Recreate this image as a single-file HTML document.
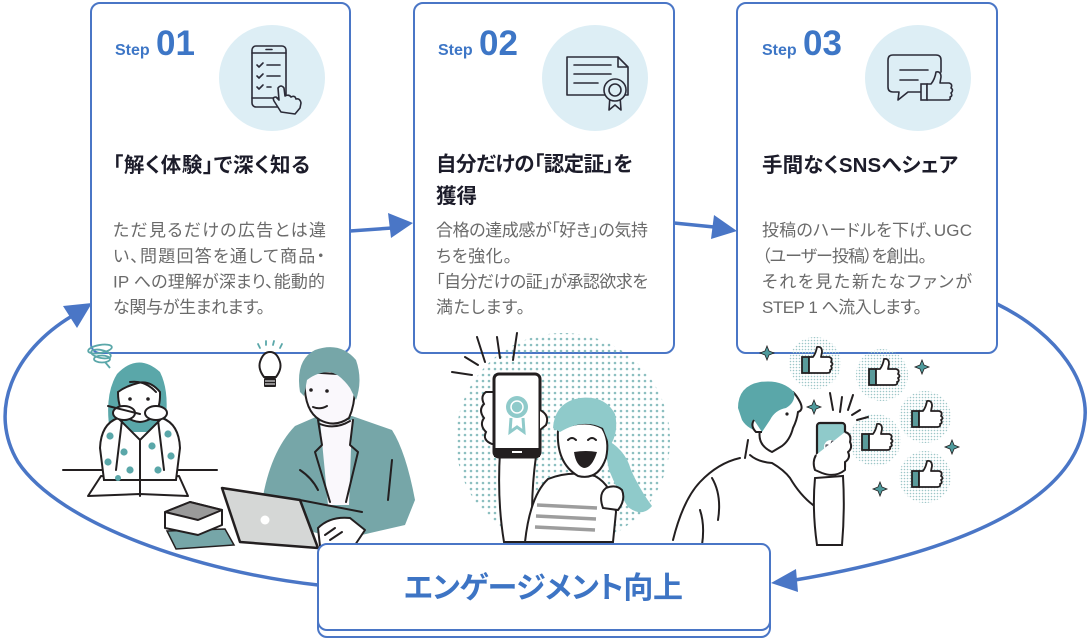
<!DOCTYPE html>
<html><head><meta charset="utf-8">
<style>
*{margin:0;padding:0;box-sizing:border-box}
html,body{width:1087px;height:639px;overflow:hidden;background:#fff}
svg{display:block}
text{font-family:"Liberation Sans","Noto Sans CJK JP",sans-serif;font-feature-settings:"palt"}
.sl{font-size:16px;font-weight:700;fill:#3d76c6}
.sn{font-size:35px;font-weight:700;fill:#3d76c6}
.tt{font-size:20.5px;font-weight:700;fill:#1c1c2a}
.bd{font-size:17px;font-weight:400;fill:#6a6a6a}
.bt{font-size:30px;font-weight:700;fill:#3d74c4}
.ln{fill:none;stroke:#231f20;stroke-width:2;stroke-linecap:round;stroke-linejoin:round}
.ic{fill:none;stroke:#2b2b38;stroke-width:1.6;stroke-linecap:round;stroke-linejoin:round}
</style></head>
<body>
<svg width="1087" height="639" viewBox="0 0 1087 639">
<defs>
<pattern id="d1" width="6" height="6" patternUnits="userSpaceOnUse"><circle cx="3" cy="3" r="1.3" fill="#8cbfc0"/></pattern>
<pattern id="d2" width="3" height="3" patternUnits="userSpaceOnUse"><circle cx="1.5" cy="1.5" r="0.8" fill="#9cc6c7"/></pattern>
</defs>

<!-- loops -->
<path d="M318,585 C200,572 60,525 18,462 C-12,412 12,352 72,316" fill="none" stroke="#4a76c6" stroke-width="3.5"/>
<polygon points="63,306 92,303 77,328" fill="#4a76c6"/>
<path d="M997,304 C1060,335 1092,385 1084,425 C1075,485 1000,545 795,580" fill="none" stroke="#4a76c6" stroke-width="3.5"/>
<polygon points="771,583 796,569 798,592" fill="#4a76c6"/>

<!-- cards -->
<rect x="91" y="3" width="259" height="350" rx="9" fill="#fff" stroke="#4a76c6" stroke-width="2"/>
<rect x="414" y="3" width="260" height="350" rx="9" fill="#fff" stroke="#4a76c6" stroke-width="2"/>
<rect x="737" y="3" width="260" height="350" rx="9" fill="#fff" stroke="#4a76c6" stroke-width="2"/>

<!-- between arrows -->
<path d="M350,231 L392,228" stroke="#4a76c6" stroke-width="3.5"/>
<polygon points="413,223 388,213 391,238" fill="#4a76c6"/>
<path d="M674,223 L714,227" stroke="#4a76c6" stroke-width="3.5"/>
<polygon points="737,231 714,215 711,239" fill="#4a76c6"/>

<!-- icon circles -->
<circle cx="272" cy="78" r="53" fill="#ddeef5"/>
<circle cx="595" cy="78" r="53" fill="#ddeef5"/>
<circle cx="918" cy="78" r="53" fill="#ddeef5"/>

<!-- icon 1 -->
<rect x="252" y="46" width="34" height="61" rx="4" class="ic"/>
<path class="ic" d="M252,53 L286,53 M252,98 L286,98 M266,49.5 L272,49.5"/>
<path class="ic" d="M257,65 l2,2 l4,-4 M267,65 L280,65 M257,76 l2,2 l4,-4 M267,76 L280,76 M257,87 l2,2 l4,-4 M267,87 L271,87"/>
<path d="M281,112 L274,101 Q272,97 276,97 L279,100 L278,88 Q281,84 284,88 L285,96 Q289,94 291,97 Q295,95 296,99 Q300,98 301,103 L300,108 L295,114 Z" fill="#ddeef5" stroke="#2b2b38" stroke-width="1.6" stroke-linejoin="round"/>

<!-- icon 2 -->
<path class="ic" d="M567,57 L618,57 L628,67 L628,95 L567,95 Z M618,57 L618,67 L628,67"/>
<path class="ic" d="M574,65 L611,65 M574,74 L611,74 M574,83 L598,83"/>
<path d="M610,96 L609,110 L615,105 L621,110 L620,96" fill="#ddeef5" stroke="#2b2b38" stroke-width="1.6" stroke-linejoin="round"/>
<circle cx="615" cy="90" r="11" fill="#ddeef5" stroke="#2b2b38" stroke-width="1.6"/>
<circle cx="615" cy="90" r="6" fill="none" stroke="#2b2b38" stroke-width="1.6"/>

<!-- icon 3 -->
<path class="ic" d="M893,55 L936,55 Q941,55 941,60 L941,72 M926,92 L908,92 L898,100 L899,92 L893,92 Q888,92 888,87 L888,60 Q888,55 893,55"/>
<path class="ic" d="M900,70 L928,70 M900,80 L918,80"/>
<rect x="921" y="84" width="6" height="16" fill="#ddeef5" stroke="#2b2b38" stroke-width="1.6"/>
<path d="M927,84 L931,84 Q935,79 936,72 Q941,71 941,77 L940,83 L949,83 Q953,84 951,88 Q954,90 951,93 Q953,96 950,97 Q951,100 948,100 L927,100 Z" fill="#ddeef5" stroke="#2b2b38" stroke-width="1.6" stroke-linejoin="round"/>

<!-- text card 1 -->
<text x="115" y="55" class="sl">Step</text><text x="156" y="55" class="sn">01</text>
<text x="113" y="172" class="tt" textLength="197">「解く体験」で深く知る</text>
<text x="113" y="236" class="bd" textLength="213">ただ見るだけの広告とは違</text>
<text x="113" y="262" class="bd" textLength="212">い、問題回答を通して商品・</text>
<text x="113" y="287.5" class="bd" textLength="212">IP への理解が深まり、能動的</text>
<text x="113" y="313" class="bd" textLength="152">な関与が生まれます。</text>

<!-- text card 2 -->
<text x="438" y="55" class="sl">Step</text><text x="479" y="55" class="sn">02</text>
<text x="436" y="171" class="tt" textLength="197">自分だけの「認定証」を</text>
<text x="436" y="203" class="tt">獲得</text>
<text x="436" y="236" class="bd" textLength="212">合格の達成感が「好き」の気持</text>
<text x="436" y="262" class="bd" textLength="76">ちを強化。</text>
<text x="436" y="287.5" class="bd" textLength="212">「自分だけの証」が承認欲求を</text>
<text x="436" y="313" class="bd" textLength="89">満たします。</text>

<!-- text card 3 -->
<text x="762" y="55" class="sl">Step</text><text x="803" y="55" class="sn">03</text>
<text x="762" y="172" class="tt" textLength="196">手間なくSNSへシェア</text>
<text x="762" y="236" class="bd" textLength="210">投稿のハードルを下げ、UGC</text>
<text x="762" y="262" class="bd" textLength="165">（ユーザー投稿）を創出。</text>
<text x="762" y="287.5" class="bd" textLength="210">それを見た新たなファンが</text>
<text x="762" y="313" class="bd" textLength="160">STEP 1 へ流入します。</text>

<!-- ===== LEFT ILLUSTRATION ===== -->
<!-- scribble -->
<g fill="none" stroke="#5aa7a9" stroke-width="1.8">
<ellipse cx="100" cy="349" rx="12" ry="4" transform="rotate(-10 100 349)"/>
<ellipse cx="101" cy="354" rx="10" ry="4" transform="rotate(12 101 354)"/>
<ellipse cx="102" cy="359" rx="8" ry="3.5"/>
<path d="M105,362 L110,368"/>
</g>
<!-- desk -->
<path class="ln" d="M63,470 L217,470" stroke-width="2.5"/>
<path d="M88,496 L101,476 L140,480 L179,476 L188,496 L140,494 Z" fill="#fff" stroke="#231f20" stroke-width="2" stroke-linejoin="round"/>
<!-- woman hair -->
<path d="M110,432 Q104,395 117,374 Q138,352 160,372 Q170,392 165,425 L150,432 Z" fill="#5aa7a9"/>
<!-- face -->
<path d="M118,392 Q118,420 140,422 Q161,420 160,392 Q150,380 138,383 Q126,386 118,392 Z" fill="#fff" stroke="#231f20" stroke-width="2"/>
<path class="ln" d="M130,382 Q145,380 156,392"/>
<circle cx="130" cy="399" r="1.8" fill="#231f20"/><circle cx="148" cy="399" r="1.8" fill="#231f20"/>
<!-- body -->
<path d="M100,448 Q101,424 118,418 L140,440 L162,418 Q179,424 180,448 L176,480 L104,480 Z" fill="#fff" stroke="#231f20" stroke-width="2"/>
<g fill="#5aa7a9">
<circle cx="110" cy="436" r="3.6"/><circle cx="124" cy="452" r="3.6"/><circle cx="108" cy="462" r="3.6"/><circle cx="130" cy="470" r="3.6"/>
<circle cx="152" cy="446" r="3.6"/><circle cx="168" cy="434" r="3.6"/><circle cx="171" cy="456" r="3.6"/><circle cx="158" cy="470" r="3.6"/><circle cx="118" cy="478" r="3"/>
</g>
<path class="ln" d="M122,420 L116,470 M158,420 L164,470 M140,440 L140,496"/>
<!-- hands -->
<ellipse cx="124" cy="413" rx="11" ry="7" fill="#fff" stroke="#231f20" stroke-width="2"/>
<ellipse cx="156" cy="413" rx="11" ry="7" fill="#fff" stroke="#231f20" stroke-width="2"/>
<path class="ln" d="M108,406 L140,414"/>

<!-- lightbulb -->
<path d="M264,377 Q258,369 260,362 Q263,352 270,352 Q277,352 280,362 Q282,369 276,377 Z" fill="#fff" stroke="#231f20" stroke-width="2"/>
<rect x="264" y="378" width="12" height="9" rx="1" fill="#231f20"/>
<path d="M265,381 L275,381 M265,384 L275,384" stroke="#fff" stroke-width="1"/>
<path d="M258,344 L260,348 M266,341 L266,345 M274,341 L273,345 M282,344 L280,348" stroke="#5aa7a9" stroke-width="1.8" stroke-linecap="round"/>

<!-- left man -->
<path d="M262,502 Q270,452 295,426 L318,416 L352,416 L392,430 Q406,452 415,500 L405,525 L340,540 L280,522 Z" fill="#76a6a8"/>
<path d="M320,420 L352,420 L349,505 L328,505 Z" fill="#faf8fc"/>
<path class="ln" d="M318,420 L322,445 L315,452 L330,502 M353,420 L350,445 L358,452 L346,502 M300,470 Q312,478 318,490 M392,460 L388,500"/>
<path d="M305,372 Q302,410 320,420 Q335,428 349,418 Q357,400 354,375 Z" fill="#faf8fc" stroke="#231f20" stroke-width="2"/>
<path d="M300,392 Q295,360 315,350 Q340,341 356,360 Q363,380 356,400 L350,388 Q340,374 330,372 Q317,372 307,380 L304,396 Z" fill="#76a6a8"/>
<circle cx="311" cy="390" r="1.8" fill="#231f20"/><circle cx="327" cy="391" r="1.8" fill="#231f20"/>
<path class="ln" d="M313,407 Q320,410 327,406 M320,424 Q335,430 350,421"/>
<!-- books -->
<path d="M167,531 L225,529 L234,545 L176,549 Z" fill="#76a6a8" stroke="#231f20" stroke-width="1.5"/>
<path d="M165,512 L190,502 L222,510 L222,525 L198,535 L165,528 Z" fill="#fff" stroke="#231f20" stroke-width="2" stroke-linejoin="round"/>
<path d="M165,512 L190,502 L222,510 L198,520 Z" fill="#9a9a9a" stroke="#231f20" stroke-width="2" stroke-linejoin="round"/>
<!-- laptop -->
<path d="M222,488 L300,500 L318,548 L240,542 Z" fill="#d5d7d6" stroke="#231f20" stroke-width="2.5" stroke-linejoin="round"/>
<circle cx="265" cy="520" r="4.5" fill="#fff"/>
<path class="ln" d="M300,500 L362,512"/>
<path d="M318,528 Q330,516 350,518 L365,530 L355,545 L320,546 Z" fill="#fff" stroke="#231f20" stroke-width="2" stroke-linejoin="round"/>
<path class="ln" d="M325,535 L335,528 M330,540 L342,532"/>

<!-- ===== MIDDLE ILLUSTRATION ===== -->
<circle cx="563" cy="440" r="107" fill="url(#d1)"/>
<path class="ln" d="M477,337 L485,362 M497,337 L500,358 M517,333 L513,360 M465,357 L478,365 M452,372 L472,375"/>
<!-- arm -->
<path d="M500,452 Q497,500 504,542 L533,542 Q530,500 536,456 Z" fill="#fff" stroke="#231f20" stroke-width="2"/>
<!-- body -->
<path d="M525,542 Q530,496 548,479 Q570,470 595,476 Q613,486 616,512 L613,542 Z" fill="#fff" stroke="#231f20" stroke-width="2"/>
<path d="M537,505 L597,508 M536,516 L596,519 M535,527 L595,530" stroke="#9d9d9d" stroke-width="3.5"/>
<!-- ponytail -->
<path d="M603,438 Q625,448 631,470 Q640,490 652,506 Q642,518 628,507 Q617,490 609,470 Z" fill="#8fcaca"/>
<!-- face -->
<path d="M558,430 Q556,463 578,476 Q598,481 606,458 Q610,440 602,428 Q585,418 558,430 Z" fill="#fff" stroke="#231f20" stroke-width="2"/>
<path d="M553,428 Q555,402 580,398 Q605,395 615,414 Q619,432 610,446 L603,428 Q583,418 560,432 Z" fill="#8fcaca"/>
<path class="ln" d="M568,440 Q572,436 576,440 M588,440 Q592,436 596,440"/>
<path d="M574,452 Q586,450 597,452 Q592,468 584,468 Q576,466 574,452 Z" fill="#231f20"/>
<!-- fist -->
<path d="M603,508 Q598,494 606,488 Q616,484 622,490 Q626,500 618,510 Z" fill="#fff" stroke="#231f20" stroke-width="2"/>
<!-- phone -->
<path d="M486,392 Q480,396 484,404 Q478,410 484,418 Q479,425 486,432 Q482,440 492,444 L498,444 L498,392 Z" fill="#fff" stroke="#231f20" stroke-width="2"/>
<rect x="494" y="374" width="46" height="83" rx="5" fill="#fff" stroke="#231f20" stroke-width="3"/>
<rect x="494" y="448" width="46" height="9" fill="#231f20"/>
<rect x="512" y="451" width="10" height="2" fill="#fff"/>
<path d="M511,418 L510,432 L517,427 L524,432 L523,418" fill="none" stroke="#8fcaca" stroke-width="3"/>
<circle cx="517" cy="407" r="11" fill="#8fcaca"/>
<circle cx="517" cy="407" r="6" fill="none" stroke="#fff" stroke-width="1.5"/>
<path d="M540,410 Q550,415 546,425 L540,430" fill="#fff" stroke="#231f20" stroke-width="2"/>

<!-- ===== RIGHT ILLUSTRATION ===== -->
<circle cx="815" cy="363" r="26" fill="url(#d2)"/>
<circle cx="882" cy="375" r="26" fill="url(#d2)"/>
<circle cx="925" cy="417" r="26" fill="url(#d2)"/>
<circle cx="875" cy="440" r="26" fill="url(#d2)"/>
<circle cx="925" cy="477" r="26" fill="url(#d2)"/>
<g transform="translate(815,363)"><rect x="-13" y="-6" width="7" height="16" fill="#5a9a9a" stroke="#231f20" stroke-width="1.8"/><path d="M-6,-6 L-2,-6 Q1,-10 2,-16 Q7,-17 7,-11 L6,-6 L14,-6 Q18,-5 16,-1 Q19,1 16,3 Q18,6 15,7 Q16,10 12,10 L-6,10 Z" fill="#fff" stroke="#231f20" stroke-width="1.8" stroke-linejoin="round"/></g>
<g transform="translate(882,375)"><rect x="-13" y="-6" width="7" height="16" fill="#5a9a9a" stroke="#231f20" stroke-width="1.8"/><path d="M-6,-6 L-2,-6 Q1,-10 2,-16 Q7,-17 7,-11 L6,-6 L14,-6 Q18,-5 16,-1 Q19,1 16,3 Q18,6 15,7 Q16,10 12,10 L-6,10 Z" fill="#fff" stroke="#231f20" stroke-width="1.8" stroke-linejoin="round"/></g>
<g transform="translate(925,417)"><rect x="-13" y="-6" width="7" height="16" fill="#5a9a9a" stroke="#231f20" stroke-width="1.8"/><path d="M-6,-6 L-2,-6 Q1,-10 2,-16 Q7,-17 7,-11 L6,-6 L14,-6 Q18,-5 16,-1 Q19,1 16,3 Q18,6 15,7 Q16,10 12,10 L-6,10 Z" fill="#fff" stroke="#231f20" stroke-width="1.8" stroke-linejoin="round"/></g>
<g transform="translate(875,440)"><rect x="-13" y="-6" width="7" height="16" fill="#5a9a9a" stroke="#231f20" stroke-width="1.8"/><path d="M-6,-6 L-2,-6 Q1,-10 2,-16 Q7,-17 7,-11 L6,-6 L14,-6 Q18,-5 16,-1 Q19,1 16,3 Q18,6 15,7 Q16,10 12,10 L-6,10 Z" fill="#fff" stroke="#231f20" stroke-width="1.8" stroke-linejoin="round"/></g>
<g transform="translate(925,477)"><rect x="-13" y="-6" width="7" height="16" fill="#5a9a9a" stroke="#231f20" stroke-width="1.8"/><path d="M-6,-6 L-2,-6 Q1,-10 2,-16 Q7,-17 7,-11 L6,-6 L14,-6 Q18,-5 16,-1 Q19,1 16,3 Q18,6 15,7 Q16,10 12,10 L-6,10 Z" fill="#fff" stroke="#231f20" stroke-width="1.8" stroke-linejoin="round"/></g>
<!-- sparkles -->
<g fill="#4f9a9c" stroke="#231f20" stroke-width="0.8">
<path d="M767,346 L769,351 L774,353 L769,355 L767,360 L765,355 L760,353 L765,351 Z"/>
<path d="M922,360 L924,365 L929,367 L924,369 L922,374 L920,369 L915,367 L920,365 Z"/>
<path d="M814,400 L816,405 L821,407 L816,409 L814,414 L812,409 L807,407 L812,405 Z"/>
<path d="M952,440 L954,445 L959,447 L954,449 L952,454 L950,449 L945,447 L950,445 Z"/>
<path d="M880,482 L882,487 L887,489 L882,491 L880,496 L878,491 L873,489 L878,487 Z"/>
</g>
<path class="ln" d="M830,393 L833,410 M842,397 L840,412 M853,395 L848,410 M860,410 L852,415 M868,417 L857,420"/>
<!-- man -->
<path class="ln" d="M673,540 Q683,500 700,482 Q718,463 740,458 M750,455 Q758,462 772,463 Q784,470 790,478 Q800,495 813,505 M712,478 Q722,495 718,520 M700,510 Q705,525 702,545 M745,458 L748,440"/>
<path class="ln" d="M760,430 Q757,445 772,452 L782,446 Q790,440 793,428 Q797,420 798,412 Q804,410 800,402 Q797,396 793,392"/>
<path d="M738,408 Q738,386 760,382 Q782,379 794,392 Q796,402 786,408 Q775,410 770,420 L762,432 Q748,430 742,420 Z" fill="#5aa7a9"/>
<path d="M754,420 Q750,426 756,432 L762,432" fill="#fff" stroke="#231f20" stroke-width="2"/>
<circle cx="787" cy="414" r="1.6" fill="#231f20"/>
<path d="M815,478 Q812,510 817,545 L842,545 Q845,510 843,476 Z" fill="#fff" stroke="#231f20" stroke-width="2"/>
<rect x="817" y="423" width="28" height="47" rx="3" fill="#8fcaca" stroke="#231f20" stroke-width="2.2"/>
<circle cx="831" cy="447" r="7" fill="#fff"/>
<path d="M828,446 L830,446 L832,441 Q835,441 834,445 L837,445 L836,451 L828,451 Z M826,445 L828,445 L828,452 L826,452 Z" fill="none" stroke="#2b2b38" stroke-width="0.9"/>
<path d="M845,432 Q852,434 850,442 Q853,448 848,452 Q851,458 845,462 L845,470 Q835,478 822,473 L815,470 Q812,462 816,455" fill="#fff" stroke="#231f20" stroke-width="2" stroke-linejoin="round"/>

<!-- bottom box -->
<rect x="318" y="551" width="452" height="86" rx="9" fill="#fff" stroke="#4a76c6" stroke-width="2"/>
<rect x="318" y="544" width="452" height="86" rx="9" fill="#fff" stroke="#4a76c6" stroke-width="2"/>
<text x="404" y="598" class="bt" textLength="279">エンゲージメント向上</text>
</svg>
</body></html>
